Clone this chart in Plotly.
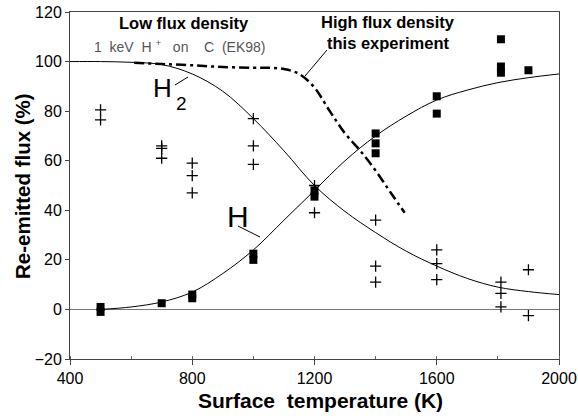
import plotly.graph_objects as go

# Measured data: H (squares) and H2 (crosses)
temp_h = [500, 500, 700, 800, 800, 1000, 1000, 1200, 1200, 1400, 1400, 1400,
          1600, 1600, 1810, 1810, 1810, 1900]
flux_h = [1, -1, 2.5, 4.5, 6, 20, 22.5, 45.5, 48, 71, 67, 63,
          86, 79, 109, 98, 95.5, 96.5]

temp_h2 = [500, 500, 700, 700, 700, 800, 800, 800, 1000, 1000, 1000, 1200, 1200,
           1400, 1400, 1400, 1600, 1600, 1600, 1810, 1810, 1810, 1900, 1900]
flux_h2 = [80.5, 76.5, 66, 65, 61, 59, 54, 47, 77, 66, 58.5, 50, 39,
           36, 17.5, 11, 24, 18.5, 12, 11, 6.5, 1, 16, -2.5]

# Fitted curves
fit_t = [400, 500, 600, 700, 800, 900, 1000, 1100, 1200, 1300, 1400, 1500,
         1600, 1700, 1800, 1900, 2000]
fit_h2 = [100, 100, 99.7, 98.8, 95, 88, 77, 64, 50, 39.5, 31, 23.5,
          17.5, 12.5, 9, 7.2, 6]
fit_h_t = [500, 600, 700, 800, 900, 1000, 1100, 1200, 1300, 1400, 1500,
           1600, 1700, 1800, 1900, 2000]
fit_h = [0, 1, 3, 7, 14.5, 24, 36, 48, 60, 70, 78, 84.5, 88.5, 91.5, 93.5, 95]

# Low flux density reference (EK98)
ek_t = [610, 700, 800, 900, 1000, 1050, 1100, 1150, 1200, 1250, 1300, 1350,
        1400, 1450, 1495]
ek_v = [99.5, 99, 98.5, 97.8, 97.5, 97.5, 97, 95, 89.5, 80, 71, 64, 56, 47, 39]

x_ticks = [400, 800, 1200, 1600, 2000]
y_ticks = [-20, 0, 20, 40, 60, 80, 100, 120]
y_tick_text = ["\u221220", "0", "20", "40", "60", "80", "100", "120"]

FONT = "Liberation Sans, Arial, sans-serif"
W, H = 578, 416
ML, MR, MT, MB = 70, 19, 12, 57
PW, PH = W - ML - MR, H - MT - MB
NB = "\u00a0"


def px(x):
    # page pixel x -> paper fraction
    return (x - ML) / PW


def py(y):
    # page pixel y -> paper fraction
    return (H - MB - y) / PH


fig = go.Figure()

fig.add_trace(go.Scatter(x=fit_t, y=fit_h2, mode="lines", line=dict(color="black", width=1, shape="spline"),
                         showlegend=False, hoverinfo="skip"))
fig.add_trace(go.Scatter(x=fit_h_t, y=fit_h, mode="lines", line=dict(color="black", width=1, shape="spline"),
                         showlegend=False, hoverinfo="skip"))
fig.add_trace(go.Scatter(x=ek_t, y=ek_v, mode="lines",
                         line=dict(color="black", width=2.5, shape="spline", dash="10px,4px,3px,4px"),
                         showlegend=False, hoverinfo="skip"))
fig.add_trace(go.Scatter(x=temp_h, y=flux_h, mode="markers",
                         marker=dict(symbol="square", size=8, color="black"), showlegend=False))
fig.add_trace(go.Scatter(x=temp_h2, y=flux_h2, mode="markers",
                         marker=dict(symbol="cross-thin", size=8, color="black",
                                     line=dict(color="black", width=1.3)), showlegend=False))

# leader lines (page pixel positions of the annotation pointers)
for (x0, y0, x1, y1) in [(175, 85, 188, 77), (238, 226, 260, 237), (327, 50, 305, 76)]:
    fig.add_shape(type="line", x0=px(x0), y0=py(y0), x1=px(x1), y1=py(y1), xref="paper", yref="paper",
                  line=dict(color="black", width=1))

ek_text = ("1" + NB * 2 + "keV" + NB * 2 + "H" + NB + "<sup>+</sup>" + NB * 3 + "on" + NB * 4
           + "C" + NB * 2 + "(EK98)")
ann = [
    (184, 23, "<b>Low flux density</b>", 16.5, "black", 0),
    (388, 22, "<b>High flux density</b>", 16.5, "black", 0),
    (388, 43, "<b>this experiment</b>", 16.5, "black", 0),
    (179, 46, ek_text, 14, "#555", 0),
    (162, 88, "H", 26, "black", 0),
    (181, 103, "2", 19, "black", 0),
    (238, 216, "H", 30, "black", 0),
    (320, 401, "<b>Surface" + NB * 2 + "temperature (K)</b>", 21, "black", 0),
    (22, 186, "<b>Re-emitted flux (%)</b>", 20.5, "black", -90),
]
for (x, y, text, size, color, ang) in ann:
    fig.add_annotation(x=px(x), y=py(y), xref="paper", yref="paper", text=text,
                       showarrow=False, xanchor="center", yanchor="middle", textangle=ang,
                       font=dict(family=FONT, size=size, color=color))

fig.update_layout(
    width=W, height=H,
    margin=dict(l=ML, r=MR, t=MT, b=MB),
    paper_bgcolor="white", plot_bgcolor="white",
    font=dict(family=FONT, size=16, color="black"),
    xaxis=dict(range=[400, 2000], tickvals=x_ticks, ticks="outside", ticklen=5, tickcolor="#444",
               showline=True, linecolor="#444", linewidth=1, mirror=True, showgrid=False, zeroline=False,
               minor=dict(dtick=200, ticks="inside", ticklen=3, tickcolor="#666"),
               tickfont=dict(size=16), automargin=False, ticklabeloverflow="allow"),
    yaxis=dict(range=[-20, 120], tickvals=y_ticks, ticktext=y_tick_text, ticks="outside", ticklen=4,
               tickcolor="#444", showline=True, linecolor="#444", linewidth=1, mirror=True, showgrid=False,
               zeroline=True, zerolinecolor="#777", zerolinewidth=1, tickfont=dict(size=16),
               automargin=False, ticklabeloverflow="allow"),
)

fig.write_html("out.html", config={"displayModeBar": False},
               post_script="document.body.style.margin='0';")
